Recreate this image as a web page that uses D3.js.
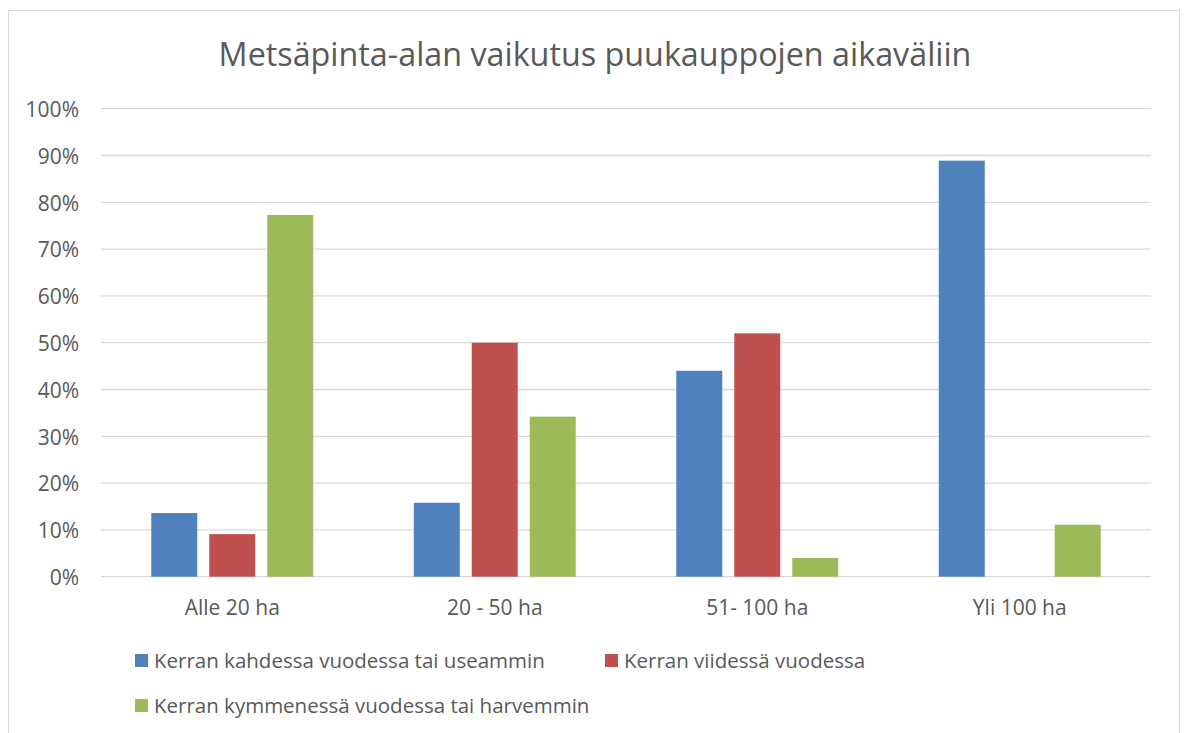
<!DOCTYPE html>
<html>
<head>
<meta charset="utf-8">
<style>
  body { margin: 0; background: #fff; }
  text { font-family: "Open Sans", sans-serif; fill: #595959; }
  line.grid { stroke: #d9d9d9; stroke-width: 1.3; }
</style>
</head>
<body>
<svg id="chart"></svg>
<script src="https://cdn.jsdelivr.net/npm/d3@7/dist/d3.min.js"></script>
<script>
var categories = ['Alle 20 ha', '20 - 50 ha', '51- 100 ha', 'Yli 100 ha'];
var seriesNames = ['Kerran kahdessa vuodessa tai useammin',
                   'Kerran viidessä vuodessa',
                   'Kerran kymmenessä vuodessa tai harvemmin'];
var kahdessa = [13.6, 15.8, 44.0, 88.9];
var viidessa = [9.1, 50.0, 52.0, 0];
var kymmenessa = [77.3, 34.2, 4.0, 11.1];
var yTicks = [0, 10, 20, 30, 40, 50, 60, 70, 80, 90, 100];
var colors = ['#4f81bd', '#c0504d', '#9bbb59'];

var width = 1186, height = 733;
var svg = d3.select('#chart').attr('width', width).attr('height', height);

// outer chart border
svg.append('rect')
  .attr('x', 8.5).attr('y', 10.5)
  .attr('width', 1171).attr('height', 740)
  .attr('fill', 'none').attr('stroke', '#d9d9d9');

svg.append('text')
  .attr('x', 595).attr('y', 66)
  .attr('text-anchor', 'middle')
  .style('font-size', '32.3px')
  .text('Metsäpinta-alan vaikutus puukauppojen aikaväliin');

var x0 = d3.scaleBand().domain(categories).range([101, 1151]);
var x1 = d3.scaleBand().domain([0, 1, 2]).range([0, x0.bandwidth()])
  .paddingInner(0.207).paddingOuter(0.867);
var y = d3.scaleLinear().domain([0, 100]).range([576.7, 108.7]);

// gridlines
svg.selectAll('line.grid')
  .data(yTicks)
  .enter()
  .append('line')
  .attr('class', 'grid')
  .attr('x1', 101).attr('x2', 1151)
  .attr('y1', d => y(d)).attr('y2', d => y(d));

// y axis labels
var yAxis = d3.axisLeft(y).tickValues(yTicks).tickSize(0).tickPadding(0)
  .tickFormat(d => d + '%');
var ya = svg.append('g').attr('transform', 'translate(79,0)').call(yAxis);
ya.select('.domain').remove();
ya.selectAll('text').attr('dy', '0.37em').attr('fill', '#595959')
  .style('font-size', '21px').style('font-family', '"Open Sans", sans-serif');

// x axis labels
var xAxis = d3.axisBottom(x0).tickSize(0).tickPadding(0);
var xa = svg.append('g').attr('transform', 'translate(0,615)').call(xAxis);
xa.select('.domain').remove();
xa.selectAll('text').attr('dy', 0).attr('y', 0).attr('fill', '#595959')
  .style('font-size', '21px').style('font-family', '"Open Sans", sans-serif');

var series = [kahdessa, viidessa, kymmenessa];
var groups = svg.selectAll('g.series')
  .data(series)
  .enter()
  .append('g')
  .attr('class', 'series')
  .attr('fill', (d, i) => colors[i]);

groups.each(function (vals, si) {
  d3.select(this).selectAll('rect')
    .data(vals)
    .enter()
    .append('rect')
    .attr('x', (d, ci) => x0(categories[ci]) + x1(si))
    .attr('width', x1.bandwidth())
    .attr('y', d => y(d))
    .attr('height', d => y(0) - y(d));
});

// legend
var legendPos = [[135, 668], [605, 668], [135, 713]];
var legend = svg.selectAll('g.legend')
  .data(seriesNames)
  .enter()
  .append('g')
  .attr('class', 'legend')
  .attr('transform', (d, i) => 'translate(' + legendPos[i][0] + ',' + legendPos[i][1] + ')');
legend.append('rect')
  .attr('x', 0).attr('y', -14).attr('width', 13).attr('height', 13)
  .attr('fill', (d, i) => colors[i]);
legend.append('text')
  .attr('x', 19).attr('y', 0)
  .style('font-size', '20.5px')
  .text(d => d);
</script>
</body>
</html>
